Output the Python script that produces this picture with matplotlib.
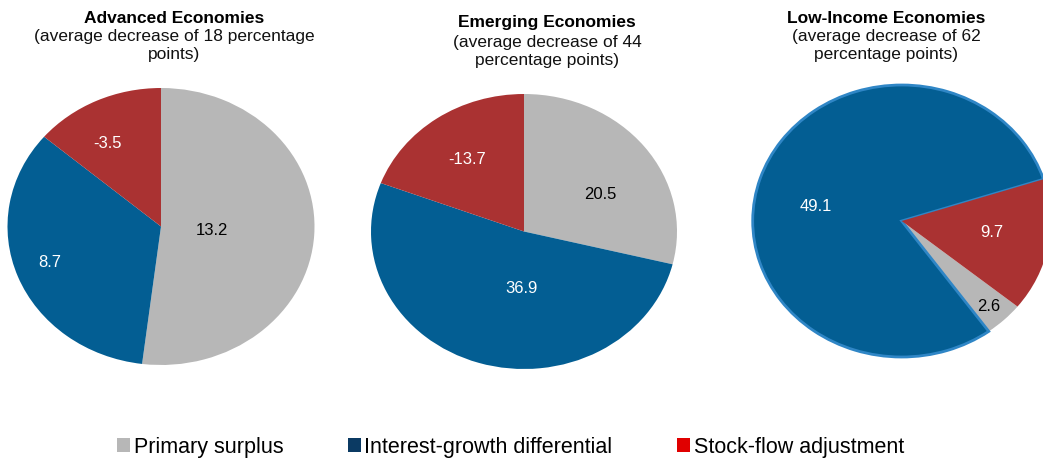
import numpy as np
import matplotlib
matplotlib.use("Agg")
import matplotlib.pyplot as plt
from matplotlib.patches import Patch

plt.rcParams['font.family'] = ['Liberation Sans', 'DejaVu Sans']

# ------------------ datos ------------------
categories = ['Primary surplus', 'Interest-growth differential', 'Stock-flow adjustment']
advanced = [13.2, 8.7, -3.5]
emerging = [20.5, 36.9, -13.7]
low_income = [2.6, 49.1, 9.7]

titles = ['Advanced Economies', 'Emerging Economies', 'Low-Income Economies']
subtitles = [['(average decrease of 18 percentage', 'points)'],
             ['(average decrease of 44', 'percentage points)'],
             ['(average decrease of 62', 'percentage points)']]

# ------------------ estilo ------------------
pie_colors = ['#B7B7B7', '#035E93', '#AA3232']
legend_colors = ['#B7B7B7', '#0B3A63', '#E00000']
label_colors = ['black', 'white', 'white']

W, H = 1043, 460
# centro x, centro y (px desde arriba), radio x, radio y
pie_boxes = [(161, 227.5, 153.5, 138.5),
             (524, 232.5, 153, 137.5),
             (901.7, 222, 149, 136)]
start_angles = [90, 90, -39]
label_r = [[0.33, 0.77, 0.70], [0.57, 0.41, 0.65], [0.85, 0.59, 0.61]]
label_dang = [[0, -2, 5], [-9, 15, 0], [0, 7, 3.5]]
title_x = [174, 547, 886]
# lineas base (px desde arriba) para titulo y dos lineas de subtitulo
title_base = [[23.3, 40.7, 59.3], [27.3, 46.7, 65], [22.7, 40.5, 59.5]]


def draw_pie(fig, values, box, start, radii, dangs):
    cx, cy, rx, ry = box
    ax = fig.add_axes([(cx - rx) / W, (H - cy - ry) / H, 2 * rx / W, 2 * ry / H])
    wedges, _ = ax.pie(np.abs(values), colors=pie_colors, startangle=start,
                       counterclock=False, radius=1,
                       wedgeprops=dict(linewidth=0))
    ax.set_aspect('auto')
    ax.set_xlim(-1, 1)
    ax.set_ylim(-1, 1)
    for w, v, r, d, c in zip(wedges, values, radii, dangs, label_colors):
        mid = np.deg2rad((w.theta1 + w.theta2) / 2 + d)
        ax.text(r * np.cos(mid), r * np.sin(mid), f"{v:.1f}",
                ha='center', va='center', fontsize=12, color=c)
    return ax, wedges


def main():
    fig = plt.figure(figsize=(W / 100, H / 100), dpi=100)
    series = [advanced, emerging, low_income]
    for i, vals in enumerate(series):
        ax, wedges = draw_pie(fig, vals, pie_boxes[i], start_angles[i],
                              label_r[i], label_dang[i])
        if i == 2:
            wedges[1].set_edgecolor('#2F86C6')
            wedges[1].set_linewidth(2)
        b = title_base[i]
        fig.text(title_x[i] / W, 1 - b[0] / H, titles[i],
                 ha='center', va='baseline', fontsize=12.5, fontweight='bold')
        for line, y in zip(subtitles[i], b[1:]):
            fig.text(title_x[i] / W, 1 - y / H, line,
                     ha='center', va='baseline', fontsize=12.5, color='#111111')
    handles = [Patch(facecolor=c, edgecolor='none') for c in legend_colors]
    fig.legend(handles, categories, loc='center', bbox_to_anchor=(510.5 / W, 1 - 448 / H),
               ncol=3, frameon=False, fontsize=15.5, handlelength=0.62,
               handleheight=0.62, handletextpad=0.15, columnspacing=3.0,
               borderpad=0, borderaxespad=0)
    fig.savefig('out.png', dpi=100)


if __name__ == "__main__":
    main()
